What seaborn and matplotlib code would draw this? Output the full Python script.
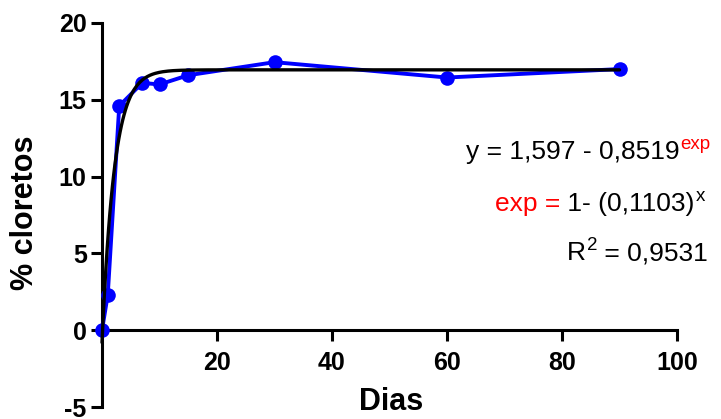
import numpy as np
import pandas as pd
import matplotlib
matplotlib.use("Agg")
import matplotlib.pyplot as plt
import seaborn as sns

# Data
dias = [0, 1, 3, 7, 10, 15, 30, 60, 90]
cloretos = [0.0, 2.3, 14.6, 16.1, 16.0, 16.6, 17.45, 16.45, 17.0]

# Fitted curve parameters
fit_plateau = 16.95
fit_start = -0.8
fit_rate = 0.47
fit_xmax = 90

xticks = [20, 40, 60, 80, 100]
yticks = [-5, 0, 5, 10, 15, 20]

sns.set_style("ticks", {"axes.edgecolor": "black", "text.color": "black",
                        "xtick.color": "black", "ytick.color": "black"})
plt.rcParams["font.family"] = ["Liberation Sans", "DejaVu Sans"]
plt.rcParams["axes.unicode_minus"] = False

fig = plt.figure(figsize=(7.21, 4.19), dpi=100)
ax = fig.add_axes([102 / 721, 1 - 407 / 419, 575 / 721, 384 / 419])

df = pd.DataFrame({"Dias": dias, "cloretos": cloretos})
xf = np.linspace(0, fit_xmax, 400)
yf = fit_plateau - (fit_plateau - fit_start) * np.exp(-fit_rate * xf)
dff = pd.DataFrame({"x": xf, "y": yf})

sns.lineplot(data=df, x="Dias", y="cloretos", ax=ax, color="#0000FF", lw=2.8,
             marker="o", markersize=10.5, markeredgewidth=0, clip_on=False, zorder=3)
sns.lineplot(data=dff, x="x", y="y", ax=ax, color="black", lw=2.4, clip_on=False, zorder=4)

ax.set_xlim(0, 100)
ax.set_ylim(-5, 20)
ax.set_xticks(xticks)
ax.set_yticks(yticks)
ax.spines["top"].set_visible(False)
ax.spines["right"].set_visible(False)
ax.spines["bottom"].set_position(("data", 0))
for s in ["left", "bottom"]:
    ax.spines[s].set_linewidth(2.2)
    ax.spines[s].set_color("black")
ax.tick_params(axis="both", width=2.2, length=8, labelsize=18, direction="out",
               colors="black")
ax.tick_params(axis="x", pad=7)
ax.tick_params(axis="y", pad=3)
for lab in ax.get_xticklabels() + ax.get_yticklabels():
    lab.set_fontweight("bold")

ax.set_xlabel("")
ax.set_ylabel("")
fig.text(391 / 721, 1 - 402 / 419, "Dias", ha="center", va="center",
         fontsize=22, fontweight="bold", color="black")
fig.text(25 / 721, 1 - 213 / 419, "% cloretos", ha="center", va="center",
         rotation=90, fontsize=22, fontweight="bold", color="black")

fs = 19
fss = 13.5
# line 1
t1 = fig.text(680 / 721, 1 - 159 / 419, "y = 1,597 - 0,8519", ha="right",
              va="baseline", fontsize=fs, color="black")
ax.annotate("exp", xy=(1, 1), xycoords=t1, xytext=(0.5, 3), textcoords="offset points",
            ha="left", va="top", fontsize=fss, color="red", annotation_clip=False)
# line 2
t2a = fig.text(560 / 721, 1 - 211 / 419, "exp =", ha="right", va="baseline",
               fontsize=fs, color="red")
t2b = ax.annotate(" 1- (0,1103)", xy=(1, 0), xycoords=t2a, ha="left", va="bottom",
                  fontsize=fs, color="black", annotation_clip=False)
ax.annotate("x", xy=(1, 1), xycoords=t2b, xytext=(1, 3), textcoords="offset points",
            ha="left", va="top", fontsize=fss, color="black", annotation_clip=False)
# line 3
t3a = fig.text(567 / 721, 1 - 260 / 419, "R", ha="left", va="baseline",
               fontsize=fs, color="black")
t3b = ax.annotate("2", xy=(1, 1), xycoords=t3a, xytext=(0.5, 3), textcoords="offset points",
                  ha="left", va="top", fontsize=fss, color="black", annotation_clip=False)
ax.annotate(" = 0,9531", xy=(1, 0), xycoords=t3a, xytext=(8, 0), textcoords="offset points",
            ha="left", va="bottom", fontsize=fs, color="black", annotation_clip=False)

fig.savefig("out.png", dpi=100)
